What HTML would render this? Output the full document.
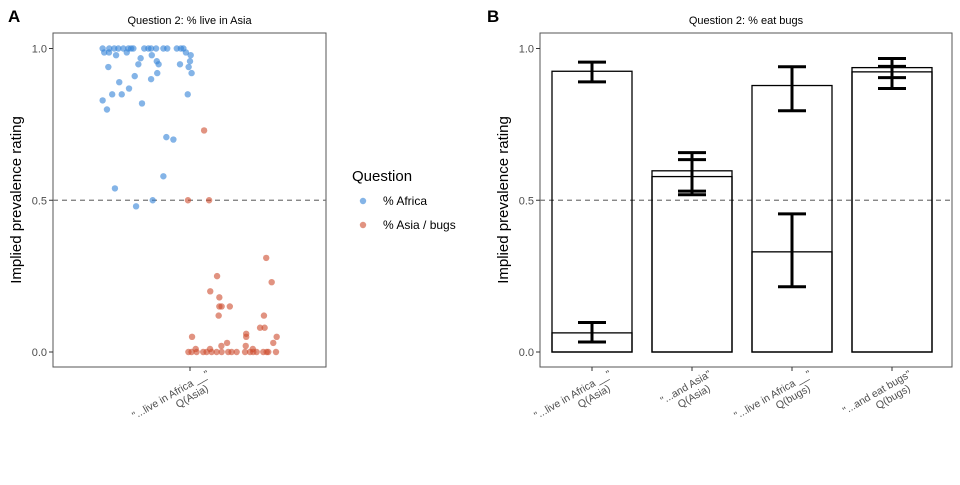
<!DOCTYPE html>
<html><head><meta charset="utf-8"><style>
body{margin:0;background:#fff;font-family:"Liberation Sans",sans-serif}
svg text{font-family:"Liberation Sans",sans-serif}
</style></head><body>
<svg id="s" width="960" height="480" xmlns="http://www.w3.org/2000/svg">
<rect width="960" height="480" fill="#fff"/>
<text x="8" y="22" font-size="17" font-weight="bold">A</text>
<text x="487" y="22" font-size="17" font-weight="bold">B</text>
<text x="189.5" y="24" font-size="11" text-anchor="middle">Question 2: % live in Asia</text>
<text x="746" y="24" font-size="11" text-anchor="middle">Question 2: % eat bugs</text>
<g id="gA"></g>
<g id="gB"></g>
<g>
<text x="352" y="181" font-size="15">Question</text>
<circle cx="363" cy="201" r="3.2" fill="rgb(50,130,215)" fill-opacity="0.6"/>
<text x="383" y="205" font-size="12">% Africa</text>
<circle cx="363" cy="225" r="3.2" fill="rgb(205,75,45)" fill-opacity="0.6"/>
<text x="383" y="229" font-size="12">% Asia / bugs</text>
</g>
</svg>
<script>
const yTicks=[0,0.5,1];
const yTickLabels=["0.0","0.5","1.0"];
const africaJitter=[-0.384,-0.377,-0.355,-0.356,-0.333,-0.325,-0.315,-0.293,-0.278,-0.271,-0.259,-0.249,-0.201,-0.183,-0.171,-0.149,-0.117,-0.1,-0.058,-0.04,-0.029,-0.018,0.003,-0.168,-0.217,-0.227,-0.146,-0.138,-0.044,0,-0.006,-0.359,0.007,-0.144,-0.243,-0.171,-0.311,-0.268,-0.342,-0.3,-0.01,-0.384,-0.211,-0.365,-0.104,-0.073,-0.117,-0.33,-0.164,-0.237];
const africaValues=[1,.987,1,.987,1,.978,1,1,.987,1,1,1,1,1,1,1,1,1,1,1,1,.987,.978,.978,.968,.948,.958,.948,.948,.958,.939,.939,.919,.919,.909,.899,.889,.868,.849,.849,.849,.829,.819,.799,.708,.70,.579,.539,.5,.48];
const asiaJitter=[0.335,0.359,0.119,0.089,0.129,0.129,0.139,0.175,0.126,0.325,0.308,0.328,0.247,0.247,0.009,0.381,0.366,0.245,0.138,0.163,0.025,0.088,0.276,-0.007,0.007,0.029,0.058,0.073,0.095,0.117,0.139,0.168,0.183,0.205,0.242,0.264,0.278,0.293,0.322,0.337,0.344,0.378,0.062,-0.009,0.084];
const asiaValues=[.31,.23,.25,.2,.18,.15,.15,.15,.12,.12,.08,.08,.06,.05,.05,.05,.03,.02,.02,.03,.01,.01,.01,0,0,0,0,0,0,0,0,0,0,0,0,0,0,0,0,0,0,0,.73,.5,.5];
const barCategories=['"...live in Africa __"|Q(Asia)','"...and Asia"|Q(Asia)','"...live in Africa __"|Q(bugs)','"...and eat bugs"|Q(bugs)'];
const barHigh=[0.925,0.597,0.878,0.937];
const barHighLo=[0.89,0.53,0.795,0.904];
const barHighHi=[0.955,0.657,0.94,0.967];
const barLow=[0.063,0.578,0.33,0.923];
const barLowLo=[0.033,0.518,0.215,0.868];
const barLowHi=[0.097,0.634,0.455,0.941];

const NS="http://www.w3.org/2000/svg";
function mk(p,t,a){const e=document.createElementNS(NS,t);for(const k in a)e.setAttribute(k,a[k]);p.appendChild(e);return e;}
const Y=v=>352-v*303.5;

function frame(g,x0,x1,ticksX,labels){
  mk(g,'rect',{x:x0,y:33,width:x1-x0,height:334,fill:'none',stroke:'#555','stroke-width':1});
  const dash=mk(g,'line',{x1:x0,x2:x1,y1:Y(0.5),y2:Y(0.5),stroke:'#777','stroke-dasharray':'5,4','stroke-width':1.2});
  
  
  yTicks.forEach((v,i)=>{
    mk(g,'line',{x1:x0-4,x2:x0,y1:Y(v),y2:Y(v),stroke:'#333'});
    const t=mk(g,'text',{x:x0-6,y:Y(v)+4,'font-size':11,'text-anchor':'end',fill:'#4d4d4d'});
    t.textContent=yTickLabels[i];
    
    
  });
  const yt=mk(g,'text',{transform:`translate(${x0-32},200) rotate(-90)`,'font-size':15,'text-anchor':'middle'});
  yt.textContent='Implied prevalence rating';
  
  
  ticksX.forEach((x,i)=>{
    mk(g,'line',{x1:x,x2:x,y1:367,y2:371,stroke:'#333'});
    const [a,b]=labels[i].split('|');
    const t=mk(g,'text',{transform:`translate(${x+20},376) rotate(-30)`,'font-size':10.5,'text-anchor':'end',fill:'#4d4d4d'});
    
    
    const s1=mk(t,'tspan',{x:0,dy:0});s1.textContent=a;
    const s2=mk(t,'tspan',{x:-8,dy:12});s2.textContent=b;
  });
}
// Panel A
const gA=document.getElementById('gA');
const XA=j=>190+j*227.5;
frame(gA,53,326,[190],['"...live in Africa __"|Q(Asia)']);
africaValues.forEach((v,i)=>{
  const c=mk(gA,'circle',{cx:XA(africaJitter[i]),cy:Y(v),r:3.2,fill:'rgb(50,130,215)','fill-opacity':0.6});
  
  
});
asiaValues.forEach((v,i)=>{
  const c=mk(gA,'circle',{cx:XA(asiaJitter[i]),cy:Y(v),r:3.2,fill:'rgb(205,75,45)','fill-opacity':0.6});
  
  
});
// Panel B
const gB=document.getElementById('gB');
const XB=i=>592+i*100;
frame(gB,540,952,barCategories.map((c,i)=>XB(i)),barCategories);
function eb(x,lo,hi){
  const g=mk(gB,'g',{});
  
  
  mk(g,'line',{x1:x,x2:x,y1:Y(lo),y2:Y(hi),stroke:'#000','stroke-width':3});
  mk(g,'line',{x1:x-14,x2:x+14,y1:Y(lo),y2:Y(lo),stroke:'#000','stroke-width':3});
  mk(g,'line',{x1:x-14,x2:x+14,y1:Y(hi),y2:Y(hi),stroke:'#000','stroke-width':3});
}
barCategories.forEach((c,i)=>{
  const x=XB(i);
  const b1=mk(gB,'rect',{x:x-40,y:Y(barHigh[i]),width:80,height:Y(0)-Y(barHigh[i]),fill:'none',stroke:'#000','stroke-width':1.3});
  
  
  const b2=mk(gB,'rect',{x:x-40,y:Y(barLow[i]),width:80,height:Y(0)-Y(barLow[i]),fill:'none',stroke:'#000','stroke-width':1.3});
  
  
  eb(x,barHighLo[i],barHighHi[i]);
  eb(x,barLowLo[i],barLowHi[i]);
});
</script>
</body></html>
